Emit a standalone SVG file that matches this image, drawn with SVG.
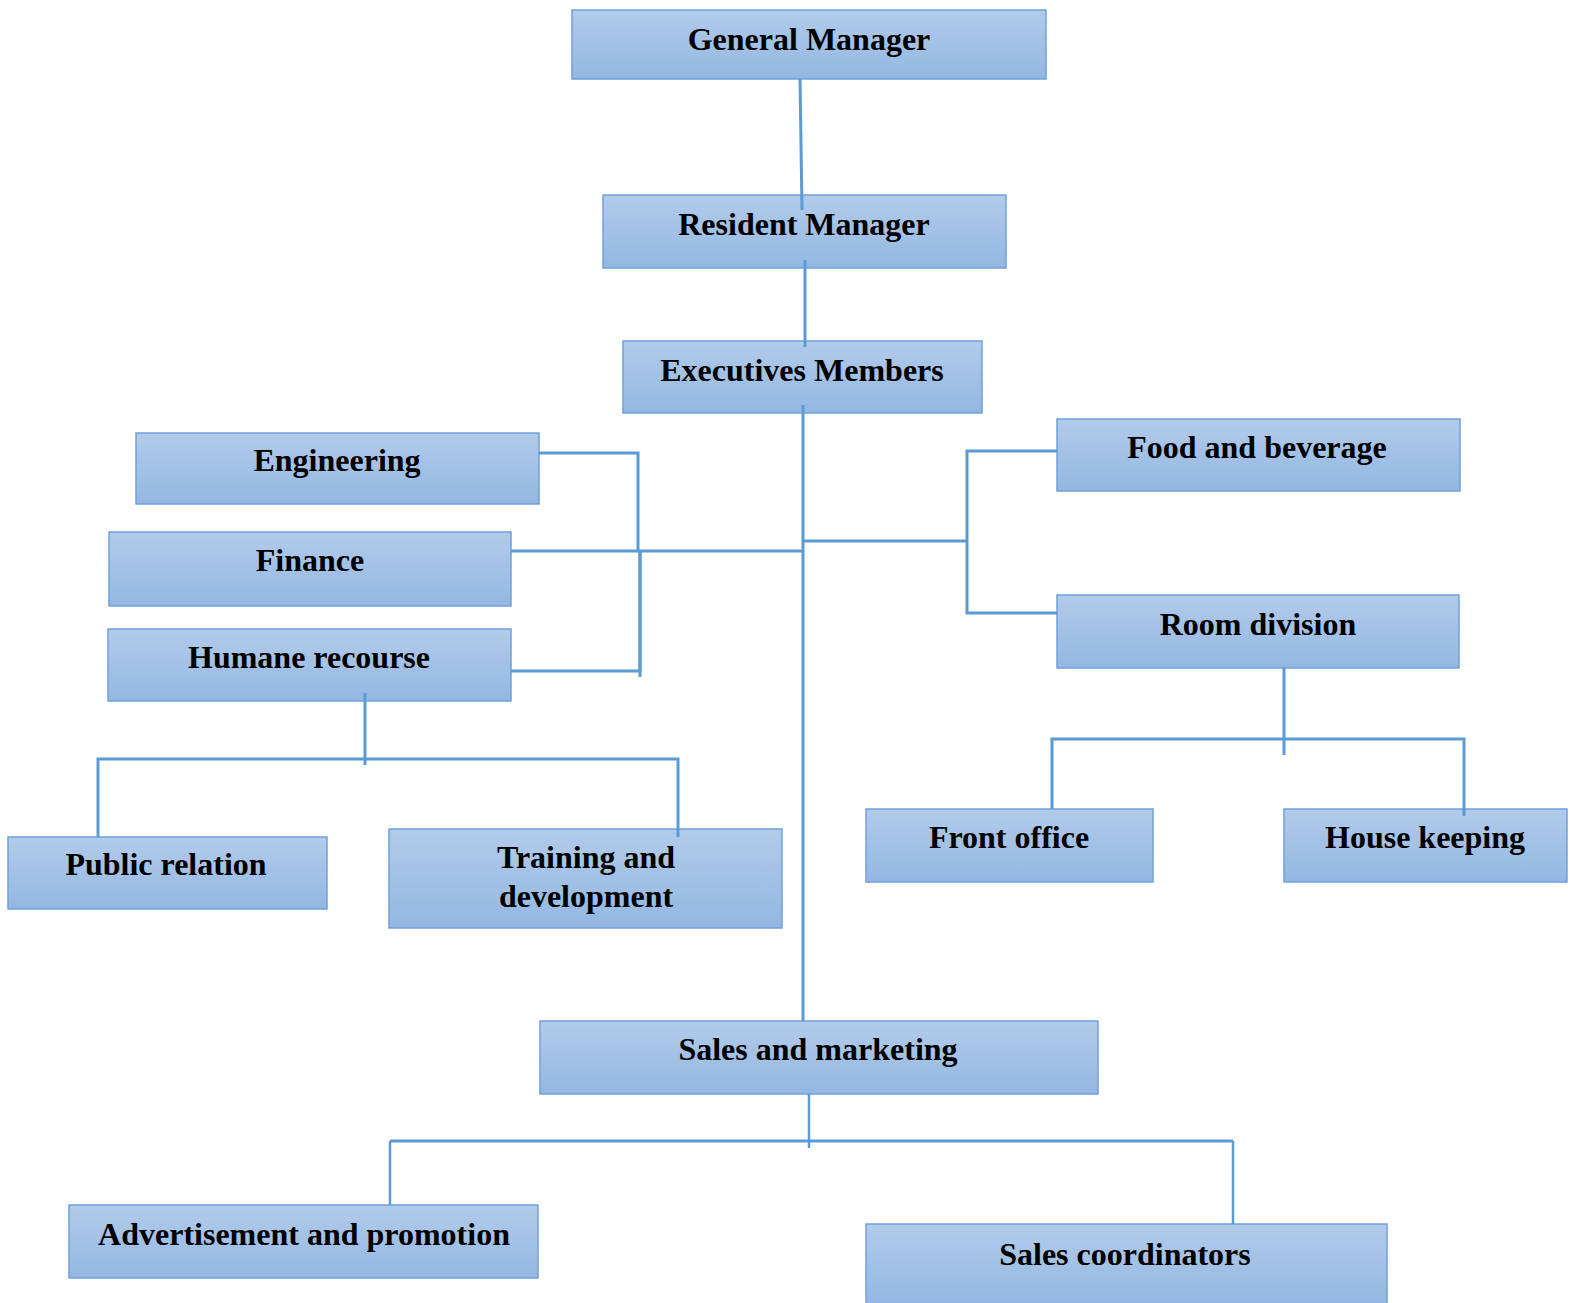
<svg xmlns="http://www.w3.org/2000/svg" width="1578" height="1303" viewBox="0 0 1578 1303">
<defs>
<linearGradient id="g" x1="0" y1="0" x2="0" y2="1">
<stop offset="0" stop-color="#b2cbea"/>
<stop offset="1" stop-color="#93b7e2"/>
</linearGradient>
<style>
.box{fill:url(#g);stroke:#6fa1da;stroke-width:1.5}
.t{font-family:"Liberation Serif","Times New Roman",serif;font-weight:bold;font-size:32px;fill:#000;text-anchor:middle}
.c{stroke:#5b9bd5;stroke-width:3;fill:none}
.c2{stroke:#5b9bd5;stroke-width:2.5;fill:none}
</style>
</defs>
<rect width="1578" height="1303" fill="#fff"/>
<g id="general-manager"><rect class="box" x="572" y="10" width="474" height="69"/><text class="t" x="809" y="50">General Manager</text></g>
<g id="resident-manager"><rect class="box" x="603" y="195" width="403" height="73"/><text class="t" x="804" y="235">Resident Manager</text></g>
<g id="executives-members"><rect class="box" x="623" y="341" width="359" height="72"/><text class="t" x="802" y="381">Executives Members</text></g>
<g id="engineering"><rect class="box" x="136" y="433" width="403" height="71"/><text class="t" x="337" y="471">Engineering</text></g>
<g id="finance"><rect class="box" x="109" y="532" width="402" height="74"/><text class="t" x="310" y="571">Finance</text></g>
<g id="humane-recourse"><rect class="box" x="108" y="629" width="403" height="72"/><text class="t" x="309" y="668">Humane recourse</text></g>
<g id="public-relation"><rect class="box" x="8" y="837" width="319" height="72"/><text class="t" x="166" y="875">Public relation</text></g>
<g id="training"><rect class="box" x="389" y="829" width="393" height="99"/><text class="t" x="586" y="868">Training and</text><text class="t" x="586" y="907">development</text></g>
<g id="food-beverage"><rect class="box" x="1057" y="419" width="403" height="72"/><text class="t" x="1257" y="458">Food and beverage</text></g>
<g id="room-division"><rect class="box" x="1057" y="595" width="402" height="73"/><text class="t" x="1258" y="635">Room division</text></g>
<g id="front-office"><rect class="box" x="866" y="809" width="287" height="73"/><text class="t" x="1009" y="848">Front office</text></g>
<g id="house-keeping"><rect class="box" x="1284" y="809" width="283" height="73"/><text class="t" x="1425" y="848">House keeping</text></g>
<g id="sales-marketing"><rect class="box" x="540" y="1021" width="558" height="73"/><text class="t" x="818" y="1060">Sales and marketing</text></g>
<g id="advertisement"><rect class="box" x="69" y="1205" width="469" height="73"/><text class="t" x="304" y="1245">Advertisement and promotion</text></g>
<g id="sales-coordinators"><rect class="box" x="866" y="1224" width="521" height="82"/><text class="t" x="1125" y="1265">Sales coordinators</text></g>
<g id="connectors">
<line class="c" x1="800" y1="79" x2="802" y2="210"/>
<line class="c" x1="805" y1="260" x2="805" y2="347"/>
<line class="c" x1="803" y1="405" x2="803" y2="1021"/>
<polyline class="c" points="511,551 803,551"/>
<polyline class="c" points="539,453 638,453 638,551"/>
<polyline class="c" points="511,671 640,671 640,551"/>
<line class="c" x1="640" y1="551" x2="640" y2="677"/>
<polyline class="c" points="804,541 967,541"/>
<polyline class="c" points="1057,451 967,451 967,613 1057,613"/>
<line class="c" x1="1284" y1="668" x2="1284" y2="755"/>
<polyline class="c" points="1052,809 1052,739 1464,739 1464,816"/>
<line class="c" x1="365" y1="693" x2="365" y2="765"/>
<polyline class="c" points="98,837 98,759 678,759 678,837"/>
<line class="c2" x1="809" y1="1094" x2="809" y2="1148"/>
<polyline class="c" points="390,1141 1233,1141"/>
<line class="c2" x1="390" y1="1141" x2="390" y2="1205"/>
<line class="c2" x1="1233" y1="1141" x2="1233" y2="1224"/>
</g>
</svg>
